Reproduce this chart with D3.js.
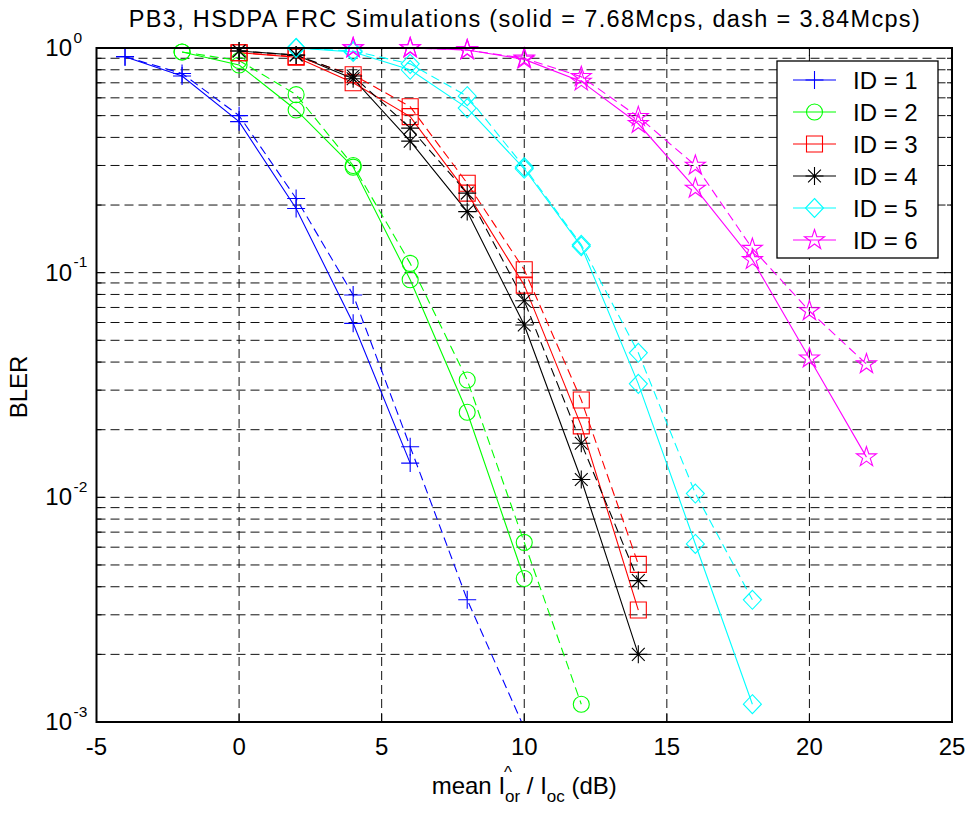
<!DOCTYPE html>
<html><head><meta charset="utf-8">
<script src="https://cdn.jsdelivr.net/npm/d3@7"></script>
<style>
body{margin:0;background:#fff}
svg{display:block}
text{font-family:"Liberation Sans",Arial,Helvetica,sans-serif;fill:#000;white-space:pre}
</style>
</head><body>
<svg id="chart" width="969" height="814"></svg>
<script>
// BLER curves for each fixed reference channel, solid = 7.68 Mcps, dashed = 3.84 Mcps
const legendLabels = ["ID = 1","ID = 2","ID = 3","ID = 4","ID = 5","ID = 6"];
const seriesColors = ["#0000ff","#00ff00","#ff0000","#000000","#00ffff","#ff00ff"];
const markerKinds = ["plus","circle","square","asterisk","diamond","pentagram"];

const id1SolidX = [-4,-2,0,2,4,6];
const id1Solid  = [0.915,0.75,0.47,0.193,0.0595,0.0142];
const id1DashX  = [-4,-2,0,2,4,6,8,10];
const id1Dash   = [0.915,0.77,0.50,0.214,0.0796,0.0168,0.0035,0.00094];

const id2SolidX = [-2,0,2,4,6,8,10];
const id2Solid  = [0.96,0.84,0.53,0.295,0.093,0.0239,0.00435];
const id2DashX  = [-2,0,2,4,6,8,10,12];
const id2Dash   = [0.96,0.88,0.62,0.30,0.110,0.0333,0.0063,0.0012];

const id3SolidX = [0,2,4,6,8,10,12,14];
const id3Solid  = [0.953,0.91,0.70,0.495,0.226,0.088,0.0208,0.00315];
const id3DashX  = [0,2,4,6,8,10,12,14];
const id3Dash   = [0.953,0.915,0.76,0.548,0.25,0.103,0.0271,0.00503];

const id4SolidX = [0,2,4,6,8,10,12,14];
const id4Solid  = [0.97,0.93,0.73,0.385,0.187,0.0585,0.012,0.002];
const id4DashX  = [0,2,4,6,8,10,12,14];
const id4Dash   = [0.97,0.93,0.75,0.44,0.226,0.075,0.0174,0.00426];

const id5SolidX = [2,4,6,8,10,12,14,16,18];
const id5Solid  = [1.0,0.96,0.80,0.54,0.29,0.131,0.032,0.0062,0.0012];
const id5DashX  = [2,4,6,8,10,12,14,16,18];
const id5Dash   = [1.0,0.97,0.85,0.61,0.295,0.133,0.044,0.0104,0.0035];

const id6SolidX = [4,6,8,10,12,14,16,18,20,22];
const id6Solid  = [1.0,1.0,0.98,0.89,0.71,0.46,0.237,0.114,0.0416,0.0151];
const id6DashX  = [4,6,8,10,12,14,16,18,20,22];
const id6Dash   = [1.0,1.0,0.98,0.90,0.745,0.494,0.30,0.128,0.0675,0.0392];

const xTicks = [-5,0,5,10,15,20,25];
const yDecades = [1e-3,1e-2,1e-1,1];
const yDecadeExp = ["-3","-2","-1","0"];

const titleText = "PB3, HSDPA FRC Simulations (solid = 7.68Mcps, dash = 3.84Mcps)";
const yLabelText = "BLER";

const solidSets = [[id1SolidX,id1Solid],[id2SolidX,id2Solid],[id3SolidX,id3Solid],
                   [id4SolidX,id4Solid],[id5SolidX,id5Solid],[id6SolidX,id6Solid]];
const dashSets  = [[id1DashX,id1Dash],[id2DashX,id2Dash],[id3DashX,id3Dash],
                   [id4DashX,id4Dash],[id5DashX,id5Dash],[id6DashX,id6Dash]];

// ---- layout ----
const L = 96.5, R = 952, T = 48, B = 722;
const svg = d3.select("#chart");
const x = d3.scaleLinear().domain([-5,25]).range([L,R]);
const y = d3.scaleLog().domain([1e-3,1]).range([B,T]);

svg.append("rect").attr("x",0).attr("y",0).attr("width",969).attr("height",814).attr("fill","#fff");

svg.append("defs").append("clipPath").attr("id","plotClip")
  .append("rect").attr("x",L).attr("y",T).attr("width",R-L).attr("height",B-T);

// grid
const minorVals = [];
for (let e=-3;e<0;e++) for (let k=1;k<10;k++) minorVals.push(k*Math.pow(10,e));
minorVals.push(1);
const grid = svg.append("g").attr("stroke","#111").attr("stroke-width",1)
  .attr("stroke-dasharray","9,5").attr("fill","none");
grid.selectAll("line.h").data(minorVals.filter(v=>v>1e-3&&v<1)).join("line")
  .attr("x1",L).attr("x2",R).attr("y1",d=>y(d)).attr("y2",d=>y(d));
grid.selectAll("line.v").data(xTicks.slice(1,-1)).join("line")
  .attr("x1",d=>x(d)).attr("x2",d=>x(d)).attr("y1",B).attr("y2",T);

// tick marks (inside, on all four sides)
const ticks = svg.append("g").attr("stroke","#000").attr("stroke-width",1);
xTicks.forEach(v=>{
  ticks.append("line").attr("x1",x(v)).attr("x2",x(v)).attr("y1",B).attr("y2",B-8);
  ticks.append("line").attr("x1",x(v)).attr("x2",x(v)).attr("y1",T).attr("y2",T+8);
});
minorVals.forEach(v=>{
  const major = yDecades.includes(v);
  const len = major ? 8 : 5;
  ticks.append("line").attr("x1",L).attr("x2",L+len).attr("y1",y(v)).attr("y2",y(v));
  ticks.append("line").attr("x1",R).attr("x2",R-len).attr("y1",y(v)).attr("y2",y(v));
});

// series lines
const line = d3.line().x(d=>x(d[0])).y(d=>y(d[1]));
const lines = svg.append("g").attr("clip-path","url(#plotClip)").attr("fill","none");
solidSets.forEach((s,i)=>{
  const pts = s[0].map((v,j)=>[v,s[1][j]]);
  lines.append("path").attr("d",line(pts)).attr("stroke",seriesColors[i]).attr("stroke-width",1.1);
});
dashSets.forEach((s,i)=>{
  const pts = s[0].map((v,j)=>[v,s[1][j]]);
  lines.append("path").attr("d",line(pts)).attr("stroke",seriesColors[i]).attr("stroke-width",1.1)
    .attr("stroke-dasharray","9,5");
});

// marker shapes
function markerPath(kind){
  switch(kind){
    case "plus": return "M-9,0H9M0,-9V9";
    case "circle": { const p=d3.path(); p.moveTo(8,0); p.arc(0,0,8,0,2*Math.PI); p.closePath(); return p.toString(); }
    case "square": return "M-8,-8H8V8H-8Z";
    case "asterisk": return "M-9,0H9M0,-9V9M-6.4,-6.4L6.4,6.4M-6.4,6.4L6.4,-6.4";
    case "diamond": return "M0,-9.5L9,0L0,9.5L-9,0Z";
    case "pentagram": {
      const Ro=10.5, Ri=Ro*0.382; let s="";
      for(let k=0;k<10;k++){
        const r = k%2===0?Ro:Ri;
        const a = -Math.PI/2 + k*Math.PI/5;
        s += (k===0?"M":"L")+(r*Math.cos(a)).toFixed(2)+","+(r*Math.sin(a)).toFixed(2);
      }
      return s+"Z";
    }
  }
}
const marks = svg.append("g").attr("fill","none").attr("stroke-width",1.1);
[...solidSets,...dashSets].forEach((s,idx)=>{
  const i = idx%6;
  s[0].forEach((v,j)=>{
    const val = s[1][j];
    if (val < 1e-3 || val > 1) return;
    marks.append("path").attr("d",markerPath(markerKinds[i]))
      .attr("transform",`translate(${x(v)},${y(val)})`).attr("stroke",seriesColors[i]);
  });
});

// axes box
svg.append("rect").attr("x",L).attr("y",T).attr("width",R-L).attr("height",B-T)
  .attr("fill","none").attr("stroke","#000").attr("stroke-width",2);

// x tick labels
svg.append("g").selectAll("text").data(xTicks).join("text")
  .attr("x",d=>x(d)).attr("y",755).attr("text-anchor","middle")
  .attr("font-size",24).text(d=>String(d));

// y tick labels 10^n
yDecades.forEach((v,i)=>{
  const ty = y(v);
  svg.append("text").attr("x",72).attr("y",ty+8).attr("text-anchor","end")
    .attr("font-size",24).text("10");
  svg.append("text").attr("x",73.5).attr("y",ty-5.5).attr("font-size",15.5).text(yDecadeExp[i]);
});

// title
svg.append("text").attr("x",(L+R)/2).attr("y",27).attr("text-anchor","middle")
  .attr("font-size",23.5).attr("textLength",791).attr("lengthAdjust","spacing").text(titleText);

// y label
svg.append("text").attr("transform","translate(27,387) rotate(-90)")
  .attr("text-anchor","middle").attr("font-size",24).text(yLabelText);

// x label: mean I^_or / I_oc (dB), laid out run by run
const runs = [
  {t:"mean I", s:24, dy:0, adv:true},
  {t:"^", s:17, dy:-16, adv:false, dx:-1},
  {t:"or", s:17, dy:8, adv:true},
  {t:" / I", s:24, dy:0, adv:true},
  {t:"oc", s:17, dy:8, adv:true},
  {t:" (dB)", s:24, dy:0, adv:true}
];
const xl = svg.append("g");
let cx = 0;
runs.forEach(r=>{
  const t = xl.append("text").attr("x",cx+(r.dx||0)).attr("y",794+r.dy).attr("font-size",r.s).text(r.t);
  if (r.adv) cx += t.node().getComputedTextLength();
});
xl.attr("transform",`translate(${(L+R)/2 - cx/2},0)`);

// legend
const lg = svg.append("g");
lg.append("rect").attr("x",777).attr("y",61).attr("width",161).attr("height",197)
  .attr("fill","#fff").attr("stroke","#000").attr("stroke-width",1.3);
legendLabels.forEach((lab,i)=>{
  const ly = 80 + i*32;
  lg.append("line").attr("x1",793).attr("x2",836).attr("y1",ly).attr("y2",ly)
    .attr("stroke",seriesColors[i]).attr("stroke-width",1.1);
  lg.append("path").attr("d",markerPath(markerKinds[i])).attr("transform",`translate(814.5,${ly})`)
    .attr("fill","none").attr("stroke",seriesColors[i]).attr("stroke-width",1.1);
  lg.append("text").attr("x",853).attr("y",ly+8.5).attr("font-size",24).text(lab);
});
</script>
</body></html>
